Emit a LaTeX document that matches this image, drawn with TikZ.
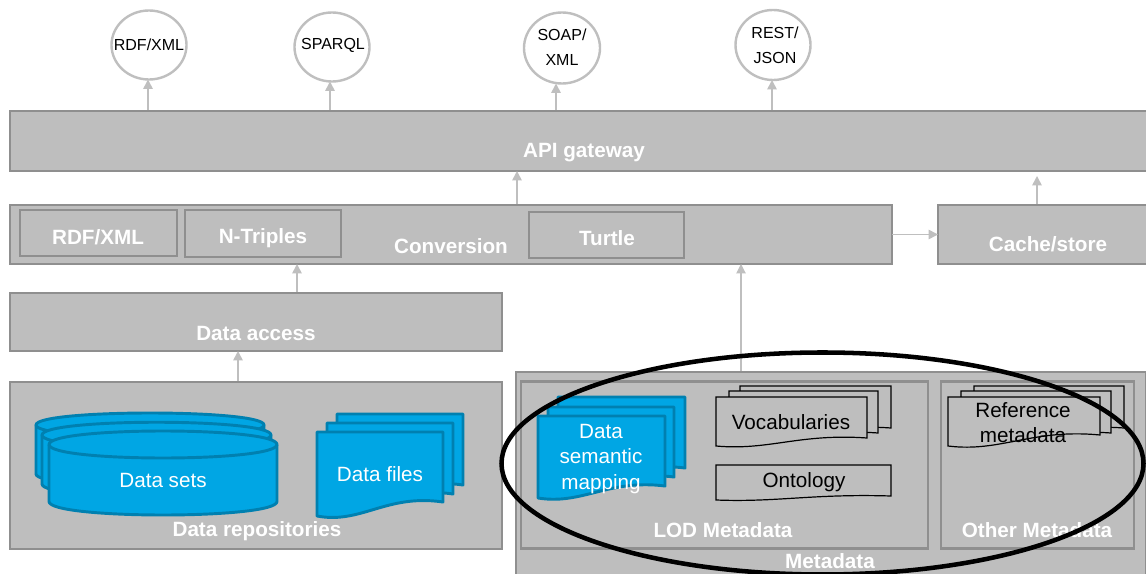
\documentclass[tikz,border=0pt]{standalone}
\usepackage{fontspec}
\setmainfont{Liberation Sans}
\usetikzlibrary{arrows.meta,shapes.geometric}

\definecolor{boxfill}{HTML}{BEBEBE}
\definecolor{boxline}{HTML}{8F8F8F}
\definecolor{flowline}{HTML}{BFBFBF}
\definecolor{bluefill}{HTML}{00A6E4}
\definecolor{blueline}{HTML}{0080B0}

\tikzset{
  sized/.style 2 args={minimum width=#1*0.75pt, minimum height=#2*0.75pt},
  layer/.style={draw=boxline, fill=boxfill, line width=2.15pt, inner sep=0pt, outer sep=0pt},
  boxlabel/.style={text=white, font=\fontsize{15.5}{19}\selectfont\bfseries, inner sep=0pt},
  bluelabel/.style={text=white, font=\fontsize{15.5}{19}\selectfont, align=center, inner sep=0pt},
  blacklabel/.style={text=black, font=\fontsize{15.5}{19}\selectfont, align=center, inner sep=0pt},
  outformat/.style={draw=flowline, fill=white, ellipse, line width=1.8pt, inner sep=0pt, outer sep=0pt},
  outlabel/.style={align=center, inner sep=0pt, font=\fontsize{12}{18.7}\selectfont},
  flow/.style={draw=flowline, line width=1.2pt, -{Triangle[width=7pt,length=7pt]}},
  bluesheet/.style={draw=blueline, fill=bluefill, line width=2.2pt, line join=round},
  plainsheet/.style={draw=black, fill=boxfill, line width=0.9pt},
}

% one sheet with a wavy lower edge: x, y, width, height, drop of the wave, style
\newcommand{\sheet}[6]{
  \draw[#6] (#1,#2) -- (#1+#3,#2) -- (#1+#3,#2+#4)
    .. controls (#1+0.55*#3,#2+#4-0.6*#5) and (#1+0.35*#3,#2+#4+1.6*#5) .. (#1,#2+#4+#5) -- cycle;
}
% one drum: left, middle of top, right, middle of bottom, bulge
\newcommand{\drum}[5]{
  \draw[bluesheet] (#1,#2) -- (#1,#4) .. controls (#1,#4+#5) and (#3,#4+#5) .. (#3,#4) -- (#3,#2)
    .. controls (#3,#2-#5) and (#1,#2-#5) .. (#1,#2) -- cycle;
  \draw[bluesheet] (#1,#2) .. controls (#1,#2+#5) and (#3,#2+#5) .. (#3,#2);
}

\begin{document}
\begin{tikzpicture}[x=0.75pt, y=-0.75pt]
  \useasboundingbox (0,0) rectangle (1146,574);
  \clip (0,0) rectangle (1146,574);

  % Output formats
  \node[outformat, sized={75}{69}] (rdfout) at (149,45) {};
  \node[outlabel] (rdfoutlab) at (149,45) {RDF/XML};
  \node[outformat, sized={75}{69}] (sparql) at (332,47) {};
  \node[outlabel] (sparqllab) at (333,45) {SPARQL};
  \node[outformat, sized={76}{71}] (soap) at (562,48) {};
  \node[outlabel] (soaplab) at (562,47.5) {SOAP/\\XML};
  \node[outformat, sized={75}{70}] (rest) at (773,45) {};
  \node[outlabel] (restlab) at (775,45) {REST/\\JSON};

  % Gateway and conversion layers
  \node[layer, sized={1140}{60}] (api) at (580,141) {};
  \node[boxlabel] (apilab) at (584,153) {API gateway};
  \node[layer, sized={882}{59}] (conv) at (451,234.5) {};
  \node[boxlabel] (convlab) at (451,246) {Conversion};
  \node[layer, sized={157}{46}] (rdfbox) at (98.5,233) {};
  \node[boxlabel] (rdflab) at (98,237) {RDF/XML};
  \node[layer, sized={156}{47}] (ntbox) at (263,233.5) {};
  \node[boxlabel] (ntlab) at (263,238) {N-Triples};
  \node[layer, sized={155}{46}] (turtlebox) at (606.5,235) {};
  \node[boxlabel] (turtlelab) at (607,238) {Turtle};
  \node[layer, sized={212}{59}] (cache) at (1044,234.5) {};
  \node[boxlabel] (cachelab) at (1048,244) {Cache/store};

  % Data side
  \node[layer, sized={492}{58}] (access) at (256,322) {};
  \node[boxlabel] (accesslab) at (256,333) {Data access};
  \node[layer, sized={492}{167}] (repos) at (256,465.5) {};
  \drum{36}{425}{264}{474}{16}
  \drum{42}{435}{271}{484}{17}
  \drum{49}{444.5}{277}{501.5}{18}
  \node[bluelabel] (setslab) at (163,480) {Data sets};
  \sheet{337}{414}{126}{71}{14}{bluesheet}
  \sheet{327}{423}{126}{71}{14}{bluesheet}
  \sheet{317}{432}{126}{70}{14}{bluesheet}
  \node[bluelabel] (fileslab) at (380,474) {Data files};
  \node[boxlabel] (reposlab) at (257,531) {Data repositories};

  % Metadata side
  \node[layer, sized={630}{214}] (meta) at (831,479) {};
  \node[layer, sized={407}{167}] (lod) at (724.5,465) {};
  \node[layer, sized={193}{167}] (other) at (1037.5,465) {};
  \sheet{558}{397}{127}{71}{12}{bluesheet}
  \sheet{548}{407}{126}{70}{12}{bluesheet}
  \sheet{538}{416}{127}{70}{12}{bluesheet}
  \node[bluelabel] (mappinglab) at (601,459) {Data\\semantic\\mapping};
  \sheet{740}{386}{151}{42}{8}{plainsheet}
  \sheet{729}{391}{149}{42}{8}{plainsheet}
  \sheet{716}{397}{151}{41}{8}{plainsheet}
  \node[blacklabel] (vocablab) at (791,422) {Vocabularies};
  \sheet{716}{465}{175}{31}{4}{plainsheet}
  \node[blacklabel] (ontolab) at (804,482) {Ontology};
  \sheet{974}{386}{150}{42}{8}{plainsheet}
  \sheet{961}{391}{150}{42}{8}{plainsheet}
  \sheet{948}{397}{152}{38}{11}{plainsheet}
  \node[blacklabel] (reflab) at (1023,422.5) {Reference\\metadata};
  \node[boxlabel] (lodlab) at (723,530) {LOD Metadata};
  \node[boxlabel] (otherlab) at (1037,530) {Other Metadata};
  \node[boxlabel] (metalab) at (830,561) {Metadata};

  % Arrows between the layers
  \coordinate (out1) at (148,110);
  \coordinate (out2) at (330,110);
  \coordinate (out3) at (556,110);
  \coordinate (out4) at (772,110);
  \coordinate (convup) at (517,204);
  \coordinate (accessup) at (297,292);
  \coordinate (reposup) at (238,381);
  \coordinate (metaup) at (741,371);
  \coordinate (cacheup) at (1037,204);
  \coordinate (cachetop) at (1037,176);
  \draw[flow] (out1) -- (out1 |- rdfout.south);
  \draw[flow] (out2) -- (out2 |- sparql.south);
  \draw[flow] (out3) -- (out3 |- soap.south);
  \draw[flow] (out4) -- (out4 |- rest.south);
  \draw[flow] (convup) -- (convup |- api.south);
  \draw[flow] (accessup) -- (accessup |- conv.south);
  \draw[flow] (reposup) -- (reposup |- access.south);
  \draw[flow, line width=0.8pt] (metaup) -- (metaup |- conv.south);
  \draw[flow] (cacheup) -- (cachetop);
  \draw[flow] (conv.east) -- (cache.west);

  % Highlight round the metadata
  \node[draw=black, ellipse, line width=3.4pt, sized={642}{222}, inner sep=0pt] (focus) at (822.5,463.5) {};
\end{tikzpicture}
\end{document}
